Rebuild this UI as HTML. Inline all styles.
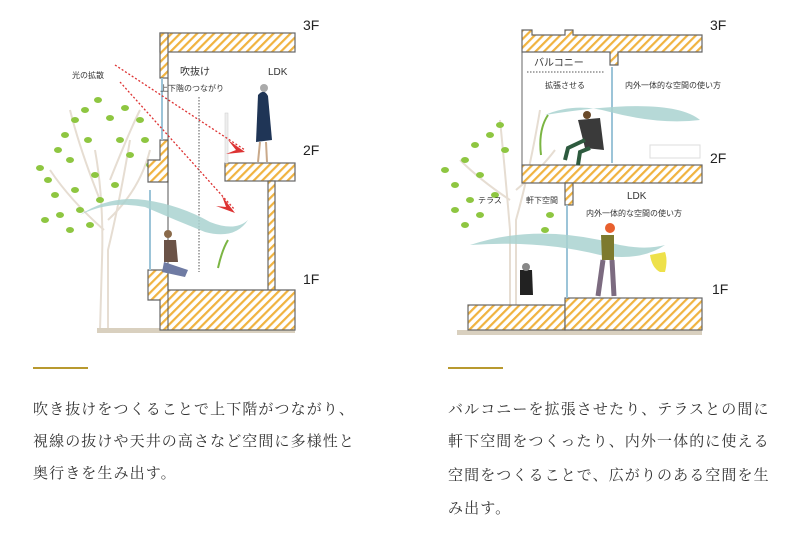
<!DOCTYPE html>
<html><head><meta charset="utf-8"><style>
html,body{margin:0;padding:0;background:#fff;width:800px;height:541px;overflow:hidden}
svg{position:absolute;left:0;top:0}
.t{position:absolute;font-family:"Liberation Serif","Noto Serif CJK SC",serif;font-size:15px;color:#333;letter-spacing:1.1px;white-space:nowrap;line-height:15px}
.g{position:absolute;height:2px;background:#b8992f;width:55px;top:367px}
</style></head><body>
<svg width="800" height="541" viewBox="0 0 800 541" xmlns="http://www.w3.org/2000/svg" font-family="Liberation Sans, Noto Sans CJK JP, sans-serif">
<defs>
<pattern id="h" width="6" height="6" patternUnits="userSpaceOnUse" patternTransform="rotate(45)">
<rect width="6" height="6" fill="#fff"/><rect width="2.2" height="6" fill="#f0b340"/></pattern>
</defs>
<!-- LEFT tree -->
<g stroke="#e6ddd2" stroke-width="2" fill="none">
<path d="M100 330 L102 260 Q104 200 95 150"/><path d="M108 330 L108 250 Q120 200 130 140"/>
<path d="M104 230 Q70 200 50 170"/><path d="M108 220 Q140 190 150 150"/><path d="M100 200 Q80 150 70 110"/><path d="M110 180 Q130 130 140 110"/>
</g>
<g fill="#8ec641">
<ellipse cx="40" cy="168" rx="4" ry="3"/><ellipse cx="48" cy="180" rx="4" ry="3"/><ellipse cx="58" cy="150" rx="4" ry="3"/><ellipse cx="65" cy="135" rx="4" ry="3"/><ellipse cx="75" cy="120" rx="4" ry="3"/><ellipse cx="85" cy="110" rx="4" ry="3"/><ellipse cx="98" cy="100" rx="4" ry="3"/><ellipse cx="110" cy="118" rx="4" ry="3"/><ellipse cx="125" cy="108" rx="4" ry="3"/><ellipse cx="140" cy="120" rx="4" ry="3"/><ellipse cx="120" cy="140" rx="4" ry="3"/><ellipse cx="88" cy="140" rx="4" ry="3"/><ellipse cx="70" cy="160" rx="4" ry="3"/><ellipse cx="55" cy="195" rx="4" ry="3"/><ellipse cx="75" cy="190" rx="4" ry="3"/><ellipse cx="95" cy="175" rx="4" ry="3"/><ellipse cx="130" cy="155" rx="4" ry="3"/><ellipse cx="145" cy="140" rx="4" ry="3"/><ellipse cx="60" cy="215" rx="4" ry="3"/><ellipse cx="80" cy="210" rx="4" ry="3"/><ellipse cx="45" cy="220" rx="4" ry="3"/><ellipse cx="70" cy="230" rx="4" ry="3"/><ellipse cx="100" cy="200" rx="4" ry="3"/><ellipse cx="115" cy="185" rx="4" ry="3"/><ellipse cx="150" cy="165" rx="4" ry="3"/><ellipse cx="90" cy="225" rx="4" ry="3"/>
</g>
<rect x="97" y="328" width="198" height="5" fill="#d9d0bf"/>
<!-- LEFT building -->
<g fill="url(#h)" stroke="#666" stroke-width="1.2">
<rect x="160" y="33" width="135" height="19"/>
<rect x="160" y="33" width="8" height="45"/>
<path d="M160 140 L168 140 L168 182 L148 182 L148 160 L160 160 Z"/>
<rect x="225" y="163" width="70" height="18"/>
<rect x="268" y="181" width="7" height="110"/>
<path d="M148 270 L168 270 L168 290 L295 290 L295 330 L160 330 L160 300 L148 300 Z"/>
</g>
<line x1="162" y1="78" x2="162" y2="140" stroke="#9cc4d8" stroke-width="2"/>
<line x1="150" y1="190" x2="150" y2="270" stroke="#9cc4d8" stroke-width="2"/>
<line x1="168" y1="78" x2="168" y2="330" stroke="#555" stroke-width="1"/>
<rect x="225" y="113" width="3" height="50" fill="#eee" stroke="#ccc" stroke-width="0.5"/>
<!-- arrows -->
<g stroke="#d33" stroke-width="1.3" stroke-dasharray="2,2" fill="none">
<path d="M115 65 L245 150"/><path d="M120 82 L235 210"/></g>
<path d="M245 152 L228 140 L236 150 L226 154 Z" fill="#d33"/>
<path d="M235 213 L222 196 L226 207 L216 206 Z" fill="#d33"/>
<line x1="199" y1="97" x2="199" y2="272" stroke="#555" stroke-width="1" stroke-dasharray="1.5,1.5"/>
<!-- wind -->
<path d="M80 215 Q110 195 145 200 Q180 205 210 222 Q235 232 248 220 Q235 240 205 232 Q175 220 145 207 Q110 200 80 215 Z" fill="#a9d2d0" opacity="0.85"/>
<!-- people left -->
<path d="M258 95 Q264 88 268 96 L272 140 L256 142 Z" fill="#1f3556"/><circle cx="264" cy="88" r="4" fill="#aaa"/>
<path d="M260 142 L258 162 M266 142 L267 162" stroke="#c9a98a" stroke-width="2"/>
<path d="M164 240 L176 240 L178 262 L164 262 Z" fill="#6b5347"/><circle cx="168" cy="234" r="4" fill="#8a6a4a"/>
<path d="M164 262 L188 270 L185 277 L162 272 Z" fill="#6f7ba3"/>
<path d="M218 268 Q222 250 228 240" stroke="#7bb543" stroke-width="2" fill="none"/>
<text x="180" y="75" font-size="10" fill="#333">吹抜け</text>
<text x="268" y="75" font-size="10" fill="#333">LDK</text>
<text x="160" y="91" font-size="8" fill="#333">上下階のつながり</text>
<text x="72" y="78" font-size="8" fill="#333">光の拡散</text>
<g font-size="14" fill="#222"><text x="303" y="30">3F</text><text x="303" y="155">2F</text><text x="303" y="284">1F</text></g>

<!-- RIGHT tree -->
<g stroke="#e6ddd2" stroke-width="2" fill="none">
<path d="M510 305 L510 230 Q505 170 500 120"/><path d="M516 305 L516 220 Q530 170 540 110"/><path d="M510 200 Q480 180 460 160"/><path d="M516 190 Q540 170 555 150"/></g>
<g fill="#8ec641">
<ellipse cx="445" cy="170" rx="4" ry="3"/><ellipse cx="455" cy="185" rx="4" ry="3"/><ellipse cx="465" cy="160" rx="4" ry="3"/><ellipse cx="475" cy="145" rx="4" ry="3"/><ellipse cx="490" cy="135" rx="4" ry="3"/><ellipse cx="500" cy="125" rx="4" ry="3"/><ellipse cx="505" cy="150" rx="4" ry="3"/><ellipse cx="480" cy="175" rx="4" ry="3"/><ellipse cx="470" cy="200" rx="4" ry="3"/><ellipse cx="455" cy="210" rx="4" ry="3"/><ellipse cx="465" cy="225" rx="4" ry="3"/><ellipse cx="480" cy="215" rx="4" ry="3"/><ellipse cx="495" cy="195" rx="4" ry="3"/><ellipse cx="550" cy="215" rx="4" ry="3"/><ellipse cx="545" cy="230" rx="4" ry="3"/></g>
<rect x="457" y="330" width="245" height="5" fill="#d9d0bf"/>
<g fill="url(#h)" stroke="#666" stroke-width="1.2">
<path d="M522 30 L532 30 L532 35 L565 35 L565 30 L573 30 L573 35 L702 35 L702 52 L618 52 L618 65 L610 65 L610 52 L522 52 Z"/>
<rect x="522" y="165" width="180" height="18"/>
<rect x="565" y="183" width="8" height="22"/>
<rect x="468" y="305" width="97" height="25"/>
<rect x="565" y="298" width="137" height="32"/>
</g>
<line x1="522" y1="52" x2="522" y2="165" stroke="#666" stroke-width="1"/>
<line x1="612" y1="67" x2="612" y2="163" stroke="#9cc4d8" stroke-width="2"/>
<line x1="567" y1="205" x2="567" y2="298" stroke="#9cc4d8" stroke-width="2"/>
<line x1="527" y1="72" x2="605" y2="72" stroke="#555" stroke-width="1" stroke-dasharray="1.5,1.5"/>
<path d="M650 158 L700 158 L700 145 L650 145 Z" fill="none" stroke="#ddd"/>
<path d="M545 115 Q670 95 700 120 Q660 125 610 112 Q575 102 545 115 Z" fill="#a9d2d0" opacity="0.85"/>
<path d="M470 245 Q530 225 600 240 Q640 252 665 245 Q640 262 600 255 Q540 240 470 245 Z" fill="#a9d2d0" opacity="0.85"/>
<!-- people right -->
<path d="M578 120 L600 118 L604 150 L585 148 Z" fill="#3a3a3a"/><circle cx="587" cy="115" r="4" fill="#6b4a2a"/>
<path d="M585 140 L568 148 L565 160 M590 148 L580 152 L578 165" stroke="#2d5a3e" stroke-width="4" fill="none"/>
<path d="M541 155 Q538 130 548 115" stroke="#7bb543" stroke-width="2" fill="none"/>
<path d="M601 235 L614 235 L614 260 L602 260 Z" fill="#7d7a2e"/><circle cx="610" cy="228" r="5" fill="#e8602e"/>
<path d="M603 260 L598 296 M612 260 L614 296" stroke="#7c6b80" stroke-width="5"/>
<path d="M650 255 Q652 268 660 272 L665 272 Q668 260 665 252" fill="#eee14a"/>
<path d="M520 270 L532 270 L533 295 L520 295 Z" fill="#222"/><circle cx="526" cy="267" r="4" fill="#888"/>
<g font-size="10" fill="#333"><text x="534" y="66">バルコニー</text><text x="627" y="199">LDK</text></g>
<g font-size="8" fill="#333"><text x="545" y="88">拡張させる</text><text x="625" y="88">内外一体的な空間の使い方</text><text x="586" y="216">内外一体的な空間の使い方</text><text x="478" y="203">テラス</text><text x="526" y="203">軒下空間</text></g>
<g font-size="14" fill="#222"><text x="710" y="30">3F</text><text x="710" y="163">2F</text><text x="712" y="294">1F</text></g>
</svg>
<div class="g" style="left:33px"></div><div class="g" style="left:448px"></div>
<div class="t" style="left:33px;top:403px">吹き抜けをつくることで上下階がつながり、</div>
<div class="t" style="left:33px;top:435px">視線の抜けや天井の高さなど空間に多様性と</div>
<div class="t" style="left:33px;top:467px">奥行きを生み出す。</div>
<div class="t" style="left:448px;top:403px">バルコニーを拡張させたり、テラスとの間に</div>
<div class="t" style="left:448px;top:435px">軒下空間をつくったり、内外一体的に使える</div>
<div class="t" style="left:448px;top:469px">空間をつくることで、広がりのある空間を生</div>
<div class="t" style="left:448px;top:502px">み出す。</div>
</body></html>
